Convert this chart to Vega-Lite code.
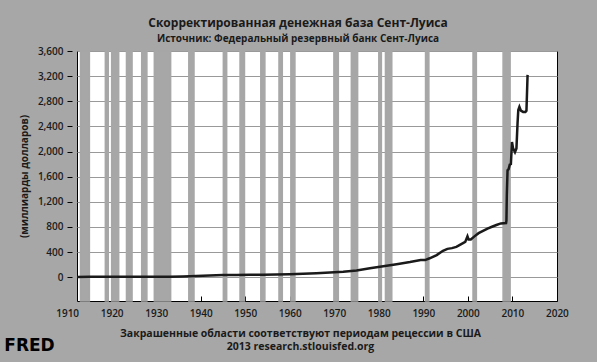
{
  "$schema": "https://vega.github.io/schema/vega-lite/v6.json",
  "width": 480,
  "height": 250,
  "autosize": {"type": "none"},
  "padding": {"left": 77, "top": 51, "right": 40, "bottom": 61},
  "background": "#a7a7a7",
  "title": {
    "text": "Скорректированная денежная база Сент-Луиса",
    "subtitle": "Источник: Федеральный резервный банк Сент-Луиса",
    "anchor": "middle",
    "frame": "group",
    "dx": -19,
    "offset": 1,
    "font": "Open Sans",
    "subtitleFont": "Open Sans",
    "fontSize": 12,
    "subtitleFontSize": 10,
    "fontWeight": "bold",
    "subtitleFontWeight": "bold",
    "color": "#1a1a1a",
    "subtitleColor": "#1a1a1a",
    "subtitlePadding": 4
  },
  "config": {
    "view": {"fill": "white", "stroke": "black", "strokeWidth": 1},
    "font": "Open Sans"
  },
  "datasets": {
    "recessions": [
      {"start": "1913-01-01", "end": "1914-12-31"},
      {"start": "1918-08-01", "end": "1919-03-31"},
      {"start": "1920-01-01", "end": "1921-07-31"},
      {"start": "1923-05-01", "end": "1924-07-31"},
      {"start": "1926-10-01", "end": "1927-11-30"},
      {"start": "1929-08-01", "end": "1933-03-31"},
      {"start": "1937-05-01", "end": "1938-06-30"},
      {"start": "1945-02-01", "end": "1945-10-31"},
      {"start": "1948-11-01", "end": "1949-10-31"},
      {"start": "1953-07-01", "end": "1954-05-31"},
      {"start": "1957-08-01", "end": "1958-04-30"},
      {"start": "1960-04-01", "end": "1961-02-28"},
      {"start": "1969-12-01", "end": "1970-11-30"},
      {"start": "1973-11-01", "end": "1975-03-31"},
      {"start": "1980-01-01", "end": "1980-07-31"},
      {"start": "1981-07-01", "end": "1982-11-30"},
      {"start": "1990-07-01", "end": "1991-03-31"},
      {"start": "2001-03-01", "end": "2001-11-30"},
      {"start": "2007-12-01", "end": "2009-06-30"}
    ],
    "base": [
      {"date": "1912-03-20", "value": 4},
      {"date": "1915-01-01", "value": 4.5},
      {"date": "1918-01-01", "value": 6},
      {"date": "1920-01-01", "value": 7.5},
      {"date": "1925-01-01", "value": 7},
      {"date": "1930-01-01", "value": 7},
      {"date": "1933-01-01", "value": 8},
      {"date": "1936-01-01", "value": 11},
      {"date": "1939-01-01", "value": 17},
      {"date": "1942-01-01", "value": 24},
      {"date": "1945-01-01", "value": 32},
      {"date": "1948-01-01", "value": 34},
      {"date": "1951-01-01", "value": 36},
      {"date": "1954-01-01", "value": 38},
      {"date": "1957-01-01", "value": 41},
      {"date": "1960-01-01", "value": 45},
      {"date": "1963-01-01", "value": 52},
      {"date": "1966-01-01", "value": 60},
      {"date": "1969-01-01", "value": 72},
      {"date": "1972-01-01", "value": 86},
      {"date": "1975-01-01", "value": 106},
      {"date": "1978-01-01", "value": 140},
      {"date": "1981-01-01", "value": 172},
      {"date": "1984-01-01", "value": 206},
      {"date": "1987-01-01", "value": 240},
      {"date": "1989-06-01", "value": 272},
      {"date": "1990-06-01", "value": 272},
      {"date": "1991-06-01", "value": 300},
      {"date": "1993-01-01", "value": 350},
      {"date": "1994-06-01", "value": 420},
      {"date": "1995-06-01", "value": 450},
      {"date": "1996-06-01", "value": 462},
      {"date": "1997-06-01", "value": 482},
      {"date": "1998-06-01", "value": 520},
      {"date": "1999-06-01", "value": 560},
      {"date": "1999-12-01", "value": 650},
      {"date": "2000-03-01", "value": 600},
      {"date": "2000-09-01", "value": 600},
      {"date": "2001-06-01", "value": 645},
      {"date": "2002-06-01", "value": 700},
      {"date": "2003-06-01", "value": 735},
      {"date": "2004-06-01", "value": 772},
      {"date": "2005-06-01", "value": 802},
      {"date": "2006-06-01", "value": 830},
      {"date": "2007-06-01", "value": 855},
      {"date": "2008-08-01", "value": 860},
      {"date": "2008-09-01", "value": 900},
      {"date": "2008-10-01", "value": 1300},
      {"date": "2008-12-01", "value": 1700},
      {"date": "2009-03-01", "value": 1720},
      {"date": "2009-06-01", "value": 1790},
      {"date": "2009-09-01", "value": 1800},
      {"date": "2009-12-01", "value": 2150},
      {"date": "2010-03-01", "value": 2050},
      {"date": "2010-08-01", "value": 1990},
      {"date": "2010-12-01", "value": 2050},
      {"date": "2011-03-01", "value": 2450},
      {"date": "2011-05-01", "value": 2660},
      {"date": "2011-08-01", "value": 2710},
      {"date": "2011-12-01", "value": 2650},
      {"date": "2012-06-01", "value": 2630},
      {"date": "2012-12-01", "value": 2630},
      {"date": "2013-03-01", "value": 2650},
      {"date": "2013-06-01", "value": 3220}
    ]
  },
  "layer": [
    {
      "data": {"name": "recessions"},
      "mark": {"type": "rect", "color": "#a7a7a7", "stroke": "#a7a7a7", "strokeWidth": 1.5},
      "encoding": {
        "x": {
          "field": "start",
          "type": "temporal",
          "scale": {"domain": ["1912-03-20", "2020-01-10"], "nice": false},
          "axis": {
            "orient": "bottom",
            "values": [
              {"year": 1920}, {"year": 1930}, {"year": 1940}, {"year": 1950},
              {"year": 1960}, {"year": 1970}, {"year": 1980}, {"year": 1990},
              {"year": 2000}, {"year": 2010}, {"year": 2020}
            ],
            "format": "%Y",
            "grid": false,
            "domain": false,
            "tickSize": -5,
            "tickColor": "black",
            "tickWidth": 1,
            "labelPadding": 12,
            "labelFontSize": 10,
            "labelColor": "#1a1a1a",
            "labelFontWeight": 600,
            "labelFlush": false,
            "title": ["Закрашенные области соответствуют периодам рецессии в США", "2013 research.stlouisfed.org"],
            "titleFontSize": 10.5,
            "titleFontWeight": "bold",
            "titleColor": "#1a1a1a",
            "titleX": 223,
            "titleY": 27,
            "titleLineHeight": 13
          }
        },
        "x2": {"field": "end"}
      }
    },
    {
      "data": {"name": "base"},
      "mark": {"type": "line", "color": "#1a1a1a", "strokeWidth": 2.5, "clip": true},
      "encoding": {
        "x": {
          "field": "date",
          "type": "temporal",
          "axis": {
            "orient": "bottom",
            "values": [{"year": 1920}],
            "labelExpr": "'1910'",
            "labelOffset": -44.5,
            "labelPadding": 7,
            "labelFontSize": 10,
            "labelColor": "#1a1a1a",
            "labelFontWeight": 600,
            "ticks": false,
            "domain": false,
            "grid": false,
            "title": "FRED",
            "titleFontSize": 17,
            "titleFontWeight": 900,
            "titleColor": "black",
            "titleFont": "DejaVu Sans",
            "titleAlign": "center",
            "titleBaseline": "middle",
            "titleX": -48,
            "titleY": 44
          }
        },
        "y": {
          "field": "value",
          "type": "quantitative",
          "scale": {"domain": [-380, 3600], "nice": false, "zero": false},
          "axis": {
            "values": [0, 400, 800, 1200, 1600, 2000, 2400, 2800, 3200, 3600],
            "format": ",.0f",
            "offset": 5,
            "domain": false,
            "tickSize": 5,
            "tickColor": "black",
            "labelPadding": 4,
            "labelFontSize": 10,
            "labelColor": "#1a1a1a",
            "labelFontWeight": 600,
            "gridColor": "#999999",
            "gridWidth": 1,
            "gridOpacity": 1,
            "title": "(миллиарды долларов)",
            "titleFontSize": 10,
            "titleFontWeight": "bold",
            "titleColor": "#1a1a1a",
            "titlePadding": 8
          }
        }
      }
    }
  ],
  "resolve": {"axis": {"x": "independent"}}
}
